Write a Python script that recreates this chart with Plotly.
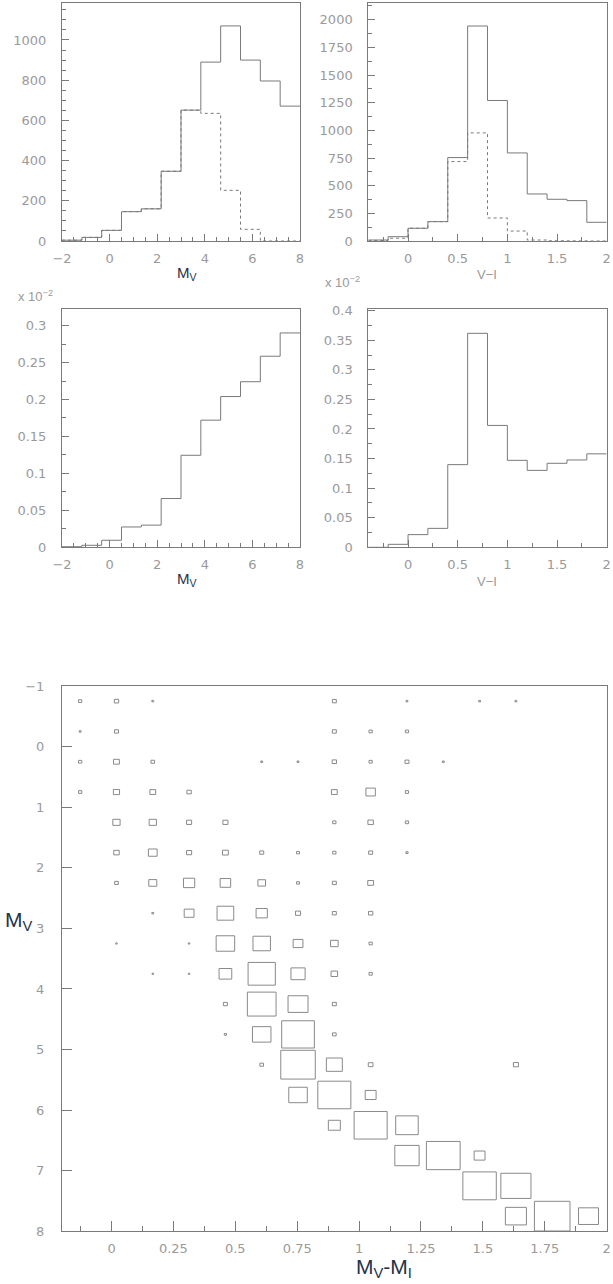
import plotly.graph_objects as go

W, H = 613, 1284

# ---------------- data ----------------
mv_edges = [-2.0, -1.1667, -0.3333, 0.5, 1.3333, 2.1667, 3.0, 3.8333, 4.6667, 5.5, 6.3333, 7.1667, 8.0]
mv_all = [4, 18, 53, 146, 160, 347, 651, 890, 1070, 900, 796, 671]
mv_sub = [4, 18, 53, 146, 160, 347, 651, 635, 252, 58, 0, 0]
mv_frac = [0.0008, 0.0027, 0.0095, 0.0275, 0.030, 0.066, 0.1245, 0.172, 0.204, 0.224, 0.2585, 0.290]

vi_edges = [-0.4, -0.2, 0.0, 0.2, 0.4, 0.6, 0.8, 1.0, 1.2, 1.4, 1.6, 1.8, 2.0]
vi_all = [9, 39, 115, 175, 754, 1943, 1270, 796, 425, 377, 365, 169]
vi_sub = [5, 25, 115, 175, 718, 977, 208, 90, 9, 2, 1, 0]
vi_frac = [0.0, 0.005, 0.0214, 0.032, 0.1397, 0.3617, 0.206, 0.147, 0.130, 0.142, 0.1476, 0.158]

cmd_color_edges = [-0.2, -0.0533, 0.0933, 0.24, 0.3867, 0.5333, 0.68, 0.8267,
                   0.9733, 1.12, 1.2667, 1.4133, 1.56, 1.7067, 1.8533, 2.0]
cmd_mag_edges = [-1.0, -0.5, 0.0, 0.5, 1.0, 1.5, 2.0, 2.5, 3.0, 3.5, 4.0,
                 4.5, 5.0, 5.5, 6.0, 6.5, 7.0, 7.5, 8.0]
# relative content of each cell (percent of the largest), rows = magnitude bins
cmd_counts = [
    [9, 12, 5, 0, 0, 0, 0, 11, 0, 5, 0, 5, 5, 0, 0],
    [5, 11, 0, 0, 0, 0, 0, 11, 9, 9, 0, 0, 0, 0, 0],
    [9, 16, 10, 0, 0, 5, 5, 12, 9, 11, 5, 0, 0, 0, 0],
    [9, 17, 16, 12, 0, 0, 0, 16, 26, 9, 0, 0, 0, 0, 0],
    [0, 20, 20, 14, 14, 0, 0, 9, 15, 9, 0, 0, 0, 0, 0],
    [0, 15, 24, 14, 16, 11, 8, 9, 11, 6, 0, 0, 0, 0, 0],
    [0, 10, 22, 31, 29, 21, 8, 11, 16, 0, 0, 0, 0, 0, 0],
    [0, 0, 5, 27, 46, 31, 14, 11, 12, 0, 0, 0, 0, 0, 0],
    [0, 4, 0, 4, 51, 48, 27, 21, 9, 0, 0, 0, 0, 0, 0],
    [0, 0, 4, 4, 35, 75, 39, 18, 9, 0, 0, 0, 0, 0, 0],
    [0, 0, 0, 0, 11, 79, 55, 11, 0, 0, 0, 0, 0, 0, 0],
    [0, 0, 0, 0, 6, 51, 90, 10, 0, 0, 0, 0, 0, 0, 0],
    [0, 0, 0, 0, 0, 10, 95, 44, 13, 0, 0, 0, 14, 0, 0],
    [0, 0, 0, 0, 0, 0, 51, 91, 30, 0, 0, 0, 0, 0, 0],
    [0, 0, 0, 0, 0, 0, 0, 33, 91, 62, 0, 0, 0, 0, 0],
    [0, 0, 0, 0, 0, 0, 0, 0, 0, 67, 93, 30, 0, 0, 0],
    [0, 0, 0, 0, 0, 0, 0, 0, 0, 0, 0, 92, 83, 0, 0],
    [0, 0, 0, 0, 0, 0, 0, 0, 0, 0, 0, 0, 58, 98, 55],
]

# ---------------- style ----------------
LINE = "#7a7a7a"
TICKTXT = "#9a9a9a"
NAVY = "#1e3448"
TFONT = dict(family="DejaVu Sans", size=13, color=TICKTXT)


def px_x(p):
    return p / W


def px_y(p):
    return 1 - p / H


def step(edges, vals):
    return list(edges[:-1]) + [edges[-1]], list(vals) + [vals[-1]]


fig = go.Figure()


def add_hist(edges, vals, ax, dash="solid"):
    xs, ys = step(edges, vals)
    fig.add_trace(go.Scatter(x=xs, y=ys, mode="lines", line=dict(shape="hv", color=LINE, width=1, dash=dash),
                             xaxis="x" + ax, yaxis="y" + ax, showlegend=False, hoverinfo="skip"))


DASH = "3px,3px"
add_hist(mv_edges, mv_sub, "", DASH)
add_hist(mv_edges, mv_all, "")
add_hist(vi_edges, vi_sub, "2", DASH)
add_hist(vi_edges, vi_all, "2")
add_hist(mv_edges, mv_frac, "3")
add_hist(vi_edges, vi_frac, "4")

# box plot
bx, by = [], []
for j, row in enumerate(cmd_counts):
    y0, y1 = cmd_mag_edges[j], cmd_mag_edges[j + 1]
    yc, hh = (y0 + y1) / 2, (y1 - y0) / 2
    for i, v in enumerate(row):
        if v <= 0:
            continue
        x0, x1 = cmd_color_edges[i], cmd_color_edges[i + 1]
        xc, hw = (x0 + x1) / 2, (x1 - x0) / 2
        f = v / 100.0
        a, b = xc - f * hw, xc + f * hw
        c, d = yc - f * hh, yc + f * hh
        bx += [a, b, b, a, a, None]
        by += [c, c, d, d, c, None]
fig.add_trace(go.Scatter(x=bx, y=by, mode="lines", line=dict(color="#8a8a8a", width=1),
                         xaxis="x5", yaxis="y5", showlegend=False, hoverinfo="skip"))


def axis(domain, rng, dtick, mdtick, tick0=0, ticklen=7, mlen=4, standoff=4, anchor=None, **kw):
    d = dict(domain=domain, range=rng, dtick=dtick, tick0=tick0, showline=True, mirror=True,
             linecolor=LINE, linewidth=1, ticks="inside", ticklen=ticklen, tickcolor=LINE,
             showgrid=False, zeroline=False, tickfont=TFONT, ticklabelstandoff=standoff,
             anchor=anchor, automargin=False, ticklabeloverflow="allow")
    if mdtick:
        d["minor"] = dict(dtick=mdtick, tick0=tick0, ticks="inside", ticklen=mlen, tickcolor=LINE, showgrid=False)
    d.update(kw)
    return d


L1, R1 = 62, 300
L2, R2 = 368.3, 606.7
T1, B1 = 3, 241
T2, B2 = 309.3, 547.3
T5, B5 = 686, 1231.3
EPS = 1e-4

fig.update_layout(
    width=W, height=H, margin=dict(l=0, r=0, t=0, b=0, pad=0), autosize=False,
    paper_bgcolor="white", plot_bgcolor="white", showlegend=False,
    xaxis=axis([px_x(L1), px_x(R1)], [-2, 8 + EPS], 2, 0.5, anchor="y", standoff=5),
    yaxis=axis([px_y(B1), px_y(T1)], [0, 1184], 200, 50, anchor="x", standoff=12),
    xaxis2=axis([px_x(L2), px_x(R2)], [-0.4, 2 + EPS], 0.5, 0.25, anchor="y2", standoff=5),
    yaxis2=axis([px_y(B1), px_y(T1)], [0, 2151], 250, 125, anchor="x2", standoff=12),
    xaxis3=axis([px_x(L1), px_x(R1)], [-2, 8 + EPS], 2, 0.5, anchor="y3", standoff=5),
    yaxis3=axis([px_y(B2), px_y(T2)], [0, 0.322], 0.05, 0.025, anchor="x3", standoff=12),
    xaxis4=axis([px_x(L2), px_x(R2)], [-0.4, 2 + EPS], 0.5, 0.25, anchor="y4", standoff=5),
    yaxis4=axis([px_y(B2), px_y(T2)], [0, 0.4023], 0.05, 0.025, anchor="x4", standoff=12),
    xaxis5=axis([px_x(L1), px_x(R2)], [-0.2, 2 + EPS], 0.25, 0.125, anchor="y5", ticklen=10, mlen=5, standoff=5),
    yaxis5=axis([px_y(B5), px_y(T5)], [8 + EPS, -1 - EPS], 1, None, anchor="x5", ticklen=10, standoff=14),
)

anns = [
    ("M<sub>V</sub>", 187, 274, 15, NAVY),
    ("V\u2212I", 487, 275, 13, TICKTXT),
    ("M<sub>V</sub>", 187, 580, 15, NAVY),
    ("V\u2212I", 487, 581, 13, TICKTXT),
    ("x 10<sup>\u22122</sup>", 35, 296, 13, TICKTXT),
    ("x 10<sup>\u22122</sup>", 342, 282, 13, TICKTXT),
    ("M<sub>V</sub>", 19, 921, 21, NAVY),
    ("M<sub>V</sub>-M<sub>I</sub>", 384, 1268, 21, NAVY),
]
for t, x, y, s, c in anns:
    fig.add_annotation(text=t, x=px_x(x), y=px_y(y), xref="paper", yref="paper", showarrow=False,
                       xanchor="center", yanchor="middle",
                       font=dict(family="Liberation Sans", size=s, color=c))

fig.write_html("out.html", config={"displayModeBar": False},
               post_script="document.body.style.margin='0';document.body.style.overflow='hidden';")
